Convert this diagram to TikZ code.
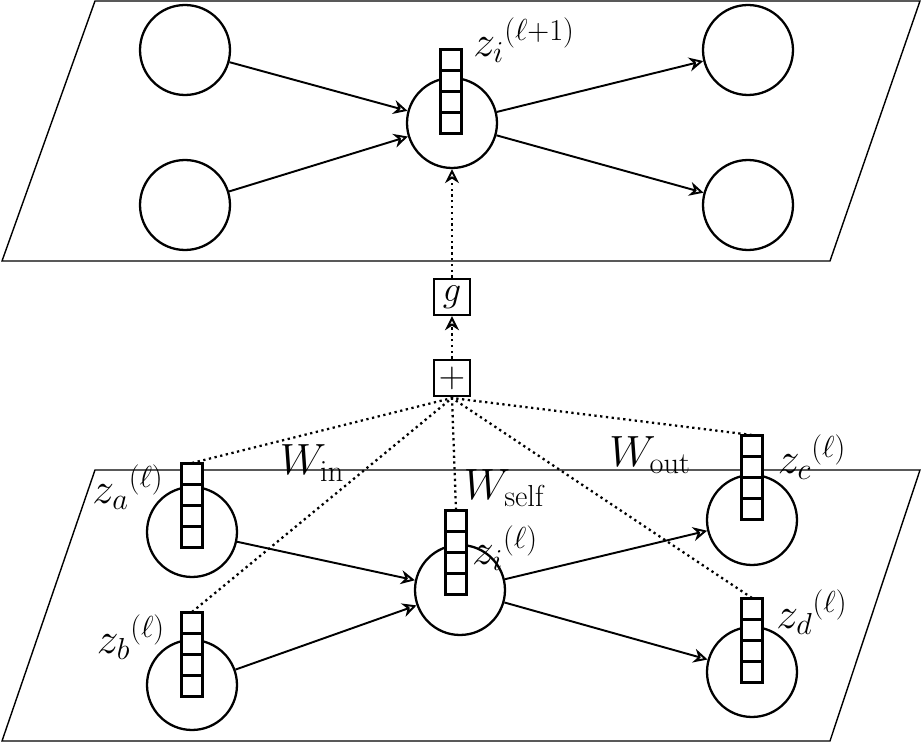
\documentclass[tikz,border=0pt]{standalone}
\usetikzlibrary{arrows.meta}
\begin{document}
\begin{tikzpicture}[x=0.02cm,y=-0.02cm,
  nd/.style={circle,draw,line width=1.3pt,minimum size=1.8cm,inner sep=0},
  cell/.style={draw,fill=white,line width=1.4pt,minimum size=0.42cm,inner sep=0},
  opbox/.style={draw,line width=1.4pt,minimum size=0.72cm,inner sep=0,font=\fontsize{22}{24}\selectfont},
  lab/.style={font=\fontsize{24}{28}\selectfont,inner sep=0},
  arr/.style={line width=1.1pt,-{Stealth[open,length=8pt,width=8pt]}},
  dot/.style={line width=1.3pt,dotted},
  plane/.style={line width=0.8pt}]
\useasboundingbox (0,0) rectangle (921,743);
% planes
\draw[plane] (95,1) -- (920,1) -- (830,261) -- (2,261) -- cycle;
\draw[plane] (95,470) -- (920,470) -- (830,741) -- (2,741) -- cycle;
% top layer
\node[nd] (t1) at (185,50) {};
\node[nd] (t2) at (185,205) {};
\node[nd] (ti) at (452,123) {};
\node[nd] (t3) at (748,50) {};
\node[nd] (t4) at (748,205) {};
\foreach \k in {0,1,2,3} \node[cell] (ts\k) at (451,{60+\k*21}) {};
\node[lab,anchor=west] (tlab) at (473,40) {$z_i{}^{(\ell+1)}$};
\draw[arr] (t1) -- (ti);
\draw[arr] (t2) -- (ti);
\draw[arr] (ti) -- (t3);
\draw[arr] (ti) -- (t4);
% ops
\node[opbox] (g) at (452,297) {$g$};
\node[opbox] (p) at (452,378) {$+$};
\draw[dot,-{Stealth[open,length=8pt,width=8pt]},line width=1.1pt] (p) -- (g);
\draw[dot,-{Stealth[open,length=8pt,width=8pt]},line width=1.1pt] (g) -- (ti);
% bottom layer
\node[nd] (a) at (192,532) {};
\node[nd] (b) at (192,685) {};
\node[nd] (i) at (460,590) {};
\node[nd] (c) at (752,520) {};
\node[nd] (d) at (752,672) {};
\coordinate (pin) at (452,398);
\draw[dot] (192,463) -- (pin);
\draw[dot] (192,612) -- (pin);
\draw[dot] (456,510) -- (pin);
\draw[dot] (752,435) -- (pin);
\draw[dot] (752,598) -- (pin);
\foreach \k in {0,1,2,3} {
  \node[cell] (as\k) at (192,{474+\k*21}) {};
  \node[cell] (bs\k) at (192,{623+\k*21}) {};
  \node[cell] (is\k) at (456,{521+\k*21}) {};
  \node[cell] (cs\k) at (752,{446+\k*21}) {};
  \node[cell] (ds\k) at (752,{609+\k*21}) {};
}
\node[lab] (la) at (128,487) {$z_a{}^{(\ell)}$};
\node[lab] (lb) at (131,637) {$z_b{}^{(\ell)}$};
\node[lab] (li) at (505,548) {$z_i{}^{(\ell)}$};
\node[lab] (lc) at (812,457) {$z_c{}^{(\ell)}$};
\node[lab] (ld) at (812,612) {$z_d{}^{(\ell)}$};
\node[lab] (win) at (312,463) {$W_{\mathrm{in}}$};
\node[lab] (wself) at (505,488) {$W_{\mathrm{self}}$};
\node[lab] (wout) at (650,455) {$W_{\mathrm{out}}$};
\draw[arr] (a) -- (i);
\draw[arr] (b) -- (i);
\draw[arr] (i) -- (c);
\draw[arr] (i) -- (d);
\end{tikzpicture}
\end{document}
